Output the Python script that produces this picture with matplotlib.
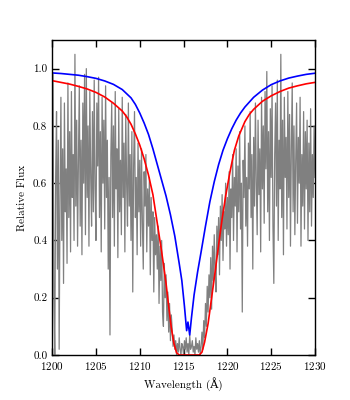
import numpy as np
import matplotlib
matplotlib.use("Agg")
import matplotlib.pyplot as plt

plt.rcParams['font.family'] = ['cmr10', 'DejaVu Serif']
plt.rcParams['axes.formatter.use_mathtext'] = True
plt.rcParams['font.size'] = 8

# observed spectrum, 0.1 A steps from 1200 to 1230
wave_start, wave_step = 1200.0, 0.1
flux = [
    0.45, 0.98, 0.20, 0.00, 0.62, 0.85, 0.30, 0.75, 0.02, 0.55,
    0.90, 0.40, 0.72, 0.25, 0.88, 0.50, 0.65, 0.32, 0.95, 0.48,
    0.78, 0.36, 0.92, 0.55, 0.70, 0.40, 1.05, 0.52, 0.82, 0.38,
    0.68, 0.94, 0.45, 0.75, 0.35, 0.88, 0.60, 0.98, 0.42, 1.00,
    0.55, 0.80, 0.38, 0.92, 0.62, 0.45, 0.85, 0.50, 0.96, 0.58,
    0.40, 0.88, 0.66, 0.97, 0.48, 0.78, 0.36, 0.90, 0.60, 0.82,
    0.44, 0.94, 0.55, 0.75, 0.30, 0.62, 0.07, 0.70, 0.88, 0.48,
    0.80, 0.38, 0.92, 0.58, 0.72, 0.34, 0.86, 0.50, 0.68, 0.42,
    0.90, 0.55, 0.74, 0.36, 0.84, 0.60, 0.45, 0.88, 0.52, 0.70,
    0.40, 0.78, 0.22, 0.66, 0.85, 0.48, 0.62, 0.35, 0.74, 0.50,
    0.68, 0.38, 0.72, 0.46, 0.30, 0.64, 0.52, 0.70, 0.36, 0.58,
    0.45, 0.62, 0.28, 0.55, 0.40, 0.50, 0.22, 0.48, 0.35, 0.42,
    0.30, 0.45, 0.18, 0.38, 0.26, 0.40, 0.15, 0.10, 0.32, 0.20,
    0.28, 0.12, 0.22, 0.08, 0.18, 0.05, 0.14, 0.09, 0.03, 0.07,
    0.02, 0.05, 0.00, 0.04, 0.01, 0.06, 0.02, 0.00, 0.04, 0.03,
    0.00, 0.05, 0.02, 0.06, 0.01, 0.04, 0.00, 0.07, 0.02, 0.03,
    0.05, 0.01, 0.03, 0.00, 0.06, 0.02, 0.04, 0.01, 0.05, 0.00,
    0.03, 0.08, 0.02, 0.12, 0.06, 0.18, 0.10, 0.24, 0.15, 0.28,
    0.20, 0.34, 0.16, 0.38, 0.26, 0.42, 0.30, 0.22, 0.45, 0.35,
    0.48, 0.28, 0.52, 0.40, 0.56, 0.33, 0.50, 0.44, 0.60, 0.38,
    0.55, 0.42, 0.64, 0.30, 0.58, 0.48, 0.70, 0.40, 0.62, 0.52,
    0.72, 0.36, 0.66, 0.50, 0.78, 0.44, 0.60, 0.15, 0.68, 0.55,
    0.80, 0.45, 0.62, 0.38, 0.74, 0.58, 0.85, 0.48, 0.70, 0.30,
    0.76, 0.52, 0.88, 0.60, 0.42, 0.82, 0.56, 0.72, 0.36, 0.90,
    0.58, 0.80, 0.46, 0.92, 0.65, 0.99, 0.50, 0.78, 0.40, 0.86,
    0.62, 0.94, 0.45, 0.25, 0.70, 0.88, 0.52, 0.96, 0.40, 0.75,
    0.58, 1.05, 0.48, 0.82, 0.35, 0.90, 0.62, 0.76, 0.44, 0.92,
    0.55, 0.84, 0.38, 0.72, 0.95, 0.50, 0.80, 0.42, 0.68, 0.88,
    0.46, 0.76, 0.60, 0.90, 0.38, 0.70, 0.52, 0.85, 0.44, 0.78,
    0.58, 0.82, 0.40, 0.74, 0.50, 0.86, 0.45, 0.70, 0.55, 0.80,
    0.62,
]
wave = wave_start + wave_step * np.arange(len(flux))

# narrow model (blue)
blue_wave = [1200.0, 1201.0, 1202.0, 1203.0, 1204.0, 1205.0, 1206.0, 1207.0,
             1208.0, 1209.0, 1209.5, 1210.0, 1210.5, 1211.0, 1211.5, 1212.0,
             1212.5, 1213.0, 1213.5, 1214.0, 1214.5, 1214.8, 1215.1, 1215.35,
             1215.5, 1215.7, 1215.9, 1216.2, 1216.6, 1217.0, 1217.5, 1218.0,
             1218.5, 1219.0, 1219.5, 1220.0, 1220.5, 1221.0, 1221.5, 1222.0,
             1223.0, 1224.0, 1225.0, 1226.0, 1227.0, 1228.0, 1229.0, 1230.0]
blue_flux = [0.985, 0.983, 0.980, 0.977, 0.972, 0.966, 0.957, 0.945,
             0.927, 0.898, 0.875, 0.845, 0.810, 0.770, 0.720, 0.665,
             0.610, 0.555, 0.490, 0.415, 0.320, 0.260, 0.170, 0.085,
             0.115, 0.070, 0.130, 0.210, 0.290, 0.360, 0.450, 0.535,
             0.605, 0.665, 0.715, 0.755, 0.790, 0.820, 0.845, 0.866,
             0.900, 0.925, 0.944, 0.957, 0.967, 0.974, 0.980, 0.984]

# broad model (red)
red_wave = [1200.0, 1201.0, 1202.0, 1203.0, 1204.0, 1205.0, 1206.0, 1207.0,
            1208.0, 1208.5, 1209.0, 1209.5, 1210.0, 1210.5, 1211.0, 1211.5,
            1212.0, 1212.5, 1213.0, 1213.3, 1213.6, 1213.9, 1214.2, 1214.5,
            1216.8, 1217.1, 1217.4, 1217.8, 1218.2, 1218.6, 1219.0, 1219.4,
            1219.8, 1220.3, 1220.8, 1221.3, 1222.0, 1222.5, 1223.0, 1224.0,
            1225.0, 1226.0, 1227.0, 1228.0, 1229.0, 1230.0]
red_flux = [0.958, 0.952, 0.946, 0.938, 0.929, 0.917, 0.901, 0.879,
            0.852, 0.832, 0.806, 0.772, 0.733, 0.685, 0.628, 0.560,
            0.460, 0.360, 0.250, 0.170, 0.095, 0.040, 0.008, 0.000,
            0.000, 0.010, 0.045, 0.110, 0.200, 0.290, 0.385, 0.475,
            0.555, 0.640, 0.715, 0.765, 0.815, 0.840, 0.858, 0.886,
            0.905, 0.920, 0.932, 0.940, 0.947, 0.952]

fig = plt.figure(figsize=(3.5, 4), dpi=100)
ax = fig.add_axes([0.149, 0.1125, 0.751, 0.7875])

ax.plot(wave, flux, color='0.5', lw=0.9)
ax.plot(blue_wave, blue_flux, color='blue', lw=1.2)
ax.plot(red_wave, red_flux, color='red', lw=1.2)

ax.set_xlim(1200, 1230)
ax.set_ylim(0, 1.1)
ax.set_xticks(np.arange(1200, 1231, 5))
ax.set_yticks(np.arange(0, 1.01, 0.2))
ax.set_yticklabels(['0.0', '0.2', '0.4', '0.6', '0.8', '1.0'])
ax.tick_params(direction='in', top=True, right=True, length=5, width=1)
for s in ax.spines.values():
    s.set_linewidth(1.0)

ax.set_xlabel(u'Wavelength (\u00c5)')
ax.set_ylabel('Relative Flux')

fig.savefig('out.png', dpi=100)
